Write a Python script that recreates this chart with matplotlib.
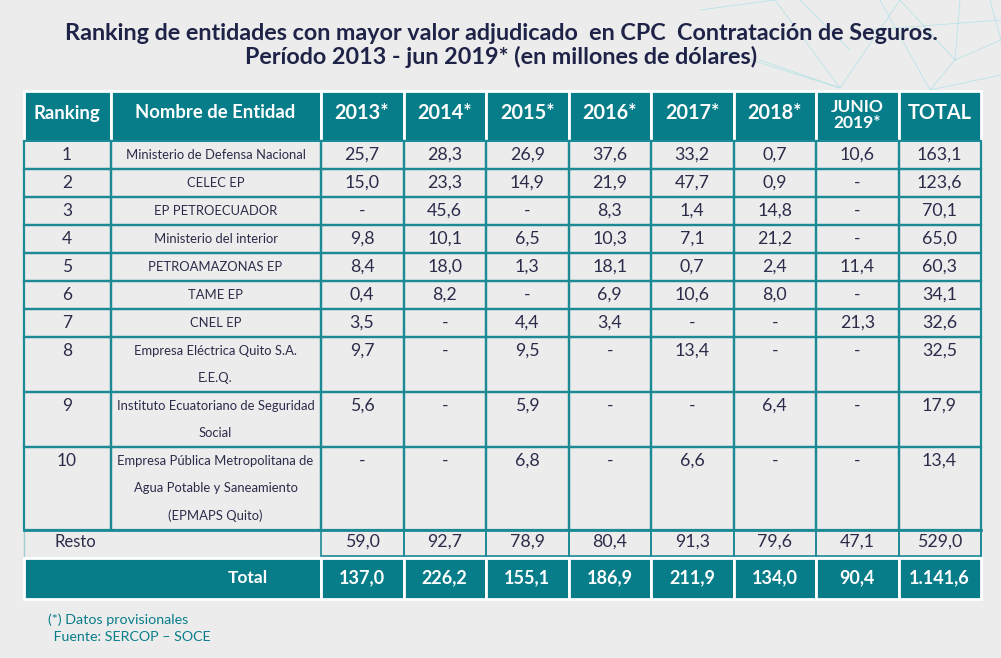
import matplotlib
matplotlib.use("Agg")
import matplotlib.pyplot as plt
from matplotlib.patches import Rectangle

# ---------------- data ----------------
title_lines = ["Ranking de entidades con mayor valor adjudicado  en CPC  Contratación de Seguros.",
               "Período 2013 - jun 2019* (en millones de dólares)"]
headers = ["Ranking", "Nombre de Entidad", "2013*", "2014*", "2015*", "2016*",
           "2017*", "2018*", "JUNIO\n2019*", "TOTAL"]
ranking = ["1", "2", "3", "4", "5", "6", "7", "8", "9", "10"]
entities = ["Ministerio de Defensa Nacional",
            "CELEC EP",
            "EP PETROECUADOR",
            "Ministerio del interior",
            "PETROAMAZONAS EP",
            "TAME EP",
            "CNEL EP",
            "Empresa Eléctrica Quito S.A.\nE.E.Q.",
            "Instituto Ecuatoriano de Seguridad\nSocial",
            "Empresa Pública Metropolitana de\nAgua Potable y Saneamiento\n(EPMAPS Quito)"]
v2013 = [25.7, 15.0, None, 9.8, 8.4, 0.4, 3.5, 9.7, 5.6, None]
v2014 = [28.3, 23.3, 45.6, 10.1, 18.0, 8.2, None, None, None, None]
v2015 = [26.9, 14.9, None, 6.5, 1.3, None, 4.4, 9.5, 5.9, 6.8]
v2016 = [37.6, 21.9, 8.3, 10.3, 18.1, 6.9, 3.4, None, None, None]
v2017 = [33.2, 47.7, 1.4, 7.1, 0.7, 10.6, None, 13.4, None, 6.6]
v2018 = [0.7, 0.9, 14.8, 21.2, 2.4, 8.0, None, None, 6.4, None]
v2019 = [10.6, None, None, None, 11.4, None, 21.3, None, None, None]
vtotal = [163.1, 123.6, 70.1, 65.0, 60.3, 34.1, 32.6, 32.5, 17.9, 13.4]
resto_label = "Resto"
resto = [59.0, 92.7, 78.9, 80.4, 91.3, 79.6, 47.1, 529.0]
total_label = "Total"
totals = [137.0, 226.2, 155.1, 186.9, 211.9, 134.0, 90.4, 1141.6]
footnotes = ["(*) Datos provisionales", " Fuente: SERCOP – SOCE"]

# ---------------- style ----------------
BG = "#ececec"
TEAL = "#087d8a"
GRID = "#1c8a95"
TXT = "#2b2c4a"
TITLE = "#1e2347"
FONT = ["Lato", "DejaVu Sans"]

def fmt(v):
    if v is None:
        return "-"
    s = f"{v:,.1f}"
    return s.replace(",", "X").replace(".", ",").replace("X", ".")

W, H = 1001, 658
fig = plt.figure(figsize=(W / 100, H / 100), dpi=100, facecolor=BG)
ax = fig.add_axes([0, 0, 1, 1])
ax.set_xlim(0, W)
ax.set_ylim(H, 0)
ax.axis("off")
ax.set_facecolor(BG)

# decorative network lines (top right)
deco = [((700, 10), (775, 0)), ((775, 0), (840, 88)), ((840, 88), (900, 0)),
        ((840, 88), (760, 60)), ((900, 0), (955, 60)), ((955, 60), (1001, 40)),
        ((955, 60), (930, 90)), ((930, 90), (1001, 75)), ((800, 0), (850, 50)),
        ((870, 30), (1001, 20)), ((720, 50), (840, 88)), ((880, 0), (930, 90)),
        ((960, 0), (955, 60)), ((990, 0), (1001, 40))]
for (x0, y0), (x1, y1) in deco:
    ax.plot([x0, x1], [y0, y1], color="#a5dfe8", lw=0.6, alpha=0.7, zorder=0)

# title
ax.text(W / 2 + 1, 33, title_lines[0], ha="center", va="center", fontsize=16.8,
        fontweight="bold", color=TITLE, family=FONT)
ax.text(W / 2 + 1, 57, title_lines[1], ha="center", va="center", fontsize=16.8,
        fontweight="bold", color=TITLE, family=FONT)

# column edges
xe = [23.5, 110.5, 320.5, 403.5, 486, 568.5, 651, 733.5, 816, 898.5, 980.5]
head_top, head_bot = 91, 141

# header
for i, h in enumerate(headers):
    ax.add_patch(Rectangle((xe[i], head_top), xe[i + 1] - xe[i], head_bot - head_top,
                           facecolor=TEAL, edgecolor="white", lw=2, zorder=2))
    cx = (xe[i] + xe[i + 1]) / 2
    if "\n" in h:
        fs, dy = 12.5, -1
    elif i < 2:
        fs, dy = 13.3, -3
    else:
        fs, dy = 14.3, -3
    ax.text(cx, (head_top + head_bot) / 2 + dy, h, ha="center", va="center",
            fontsize=fs, fontweight="bold", color="white",
            family=FONT, linespacing=0.95, zorder=3)

# body rows
line_h = 27.5
y = head_bot
value_cols = [v2013, v2014, v2015, v2016, v2017, v2018, v2019, vtotal]
for r in range(len(ranking)):
    nl = entities[r].count("\n") + 1
    rh = 28 if nl == 1 else line_h * nl
    for c in range(len(xe) - 1):
        ax.add_patch(Rectangle((xe[c], y), xe[c + 1] - xe[c], rh, facecolor="none",
                               edgecolor=GRID, lw=1.6, zorder=2))
    first = y + (28 if nl == 1 else line_h) / 2
    ax.text((xe[0] + xe[1]) / 2, first, ranking[r], ha="center", va="center",
            fontsize=12.5, color=TXT, family=FONT, zorder=3)
    for k, ln in enumerate(entities[r].split("\n")):
        ax.text((xe[1] + xe[2]) / 2, first + k * line_h, ln, ha="center", va="center",
                fontsize=9.4, color=TXT, family=FONT, zorder=3)
    for c, col in enumerate(value_cols):
        ax.text((xe[c + 2] + xe[c + 3]) / 2, first, fmt(col[r]), ha="center", va="center",
                fontsize=12.8, color=TXT, family=FONT, zorder=3)
    y += rh

# resto row
resto_top, resto_bot = y, 556
ax.plot([xe[0], xe[0]], [resto_top, resto_bot], color="#9fcfd4", lw=1, zorder=2)
for c in range(2, len(xe) - 1):
    ax.add_patch(Rectangle((xe[c], resto_top), xe[c + 1] - xe[c], resto_bot - resto_top,
                           facecolor="none", edgecolor=GRID, lw=1.2, zorder=2))
ax.plot([xe[0], xe[-1]], [resto_top, resto_top], color=GRID, lw=2, zorder=2)
ax.plot([xe[-1], xe[-1]], [resto_top, resto_bot], color=GRID, lw=1.2, zorder=2)
ry = (resto_top + resto_bot) / 2 - 1
ax.text(55, ry, resto_label, ha="left", va="center", fontsize=12, color=TXT,
        family=FONT, zorder=3)
for c, v in enumerate(resto):
    ax.text((xe[c + 2] + xe[c + 3]) / 2, ry, fmt(v), ha="center", va="center",
            fontsize=12.8, color=TXT, family=FONT, zorder=3)

# total row
tot_top, tot_bot = 557.5, 599
ax.add_patch(Rectangle((xe[0], tot_top), xe[2] - xe[0], tot_bot - tot_top,
                       facecolor=TEAL, edgecolor="white", lw=2, zorder=2))
for c in range(2, len(xe) - 1):
    ax.add_patch(Rectangle((xe[c], tot_top), xe[c + 1] - xe[c], tot_bot - tot_top,
                           facecolor=TEAL, edgecolor="white", lw=2, zorder=2))
ty = (tot_top + tot_bot) / 2
ax.text(268, ty, total_label, ha="right", va="center", fontsize=12.5, fontweight="bold",
        color="white", family=FONT, zorder=3)
for c, v in enumerate(totals):
    ax.text((xe[c + 2] + xe[c + 3]) / 2, ty, fmt(v), ha="center", va="center",
            fontsize=13, fontweight="bold", color="white", family=FONT, zorder=3)

# footnotes
ax.text(48, 620, footnotes[0], ha="left", va="center", fontsize=10.3, color=TEAL, family=FONT)
ax.text(50, 637, footnotes[1], ha="left", va="center", fontsize=10.3, color=TEAL, family=FONT)

fig.savefig("out.png", dpi=100, facecolor=BG)
